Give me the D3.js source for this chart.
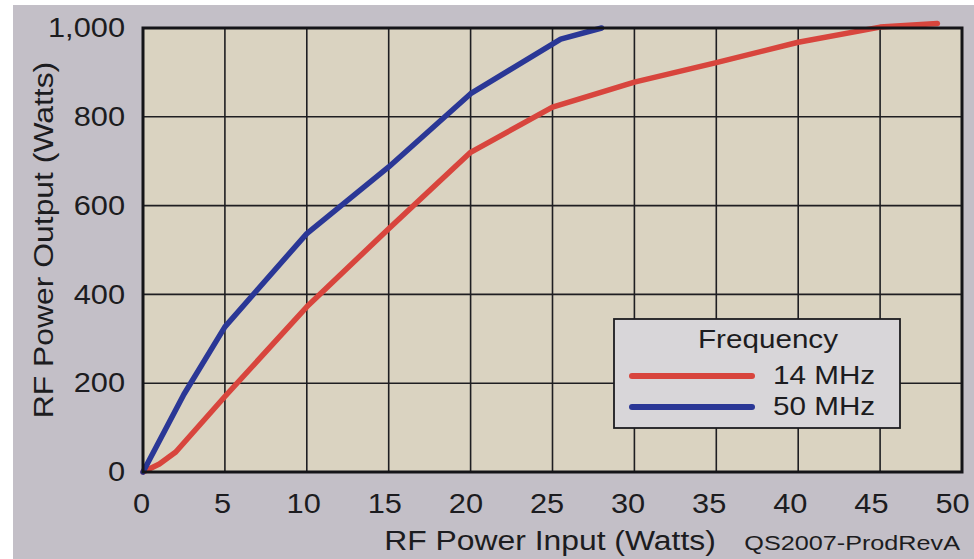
<!DOCTYPE html>
<html><head><meta charset="utf-8">
<script src="https://cdn.jsdelivr.net/npm/d3@7"></script>
<style>
html,body{margin:0;padding:0;background:#ffffff;}
svg{display:block;font-family:"Liberation Sans",Arial,sans-serif;}
</style></head>
<body>
<svg id="chart" width="974" height="559"></svg>
<script>
const xTicks = [0,5,10,15,20,25,30,35,40,45,50];
const yTicks = [0,200,400,600,800,1000];
const seriesNames = ["14 MHz","50 MHz"];
const input14 = [0,1,2,5,10,15,20,25,30,35,40,45,48.5];
const output14 = [0,18,45,170,372,548,720,822,878,922,968,1002,1010];
const input50 = [0,2.5,5,10,15,20,25.5,28];
const output50 = [0,175,327,537,687,852,975,1000];
const colors = ["#d8453d","#2a3796"];

const W=974,H=559;
const m={left:143,top:28,right:962,bottom:472};
const STRETCH=1.14;
const svg=d3.select("#chart");
svg.append("rect").attr("x",13).attr("y",5).attr("width",W-13).attr("height",H-5).attr("fill","#c3bfc7");

const x=d3.scaleLinear().domain([0,50]).range([m.left,m.right]);
const y=d3.scaleLinear().domain([0,1000]).range([m.bottom,m.top]);

svg.append("rect").attr("x",m.left).attr("y",m.top).attr("width",m.right-m.left).attr("height",m.bottom-m.top).attr("fill","#dad3c1");

function stretch(sel,k){
  sel.each(function(){
    const len=this.getComputedTextLength();
    d3.select(this).attr("textLength",len*(k||STRETCH)).attr("lengthAdjust","spacingAndGlyphs");
  });
}

// grid
const g=svg.append("g");
g.selectAll("line.v").data(xTicks.slice(1,-1)).join("line")
 .attr("x1",d=>x(d)).attr("x2",d=>x(d)).attr("y1",m.top).attr("y2",m.bottom)
 .attr("stroke","#1e1e22").attr("stroke-width",1.6);
g.selectAll("line.h").data(yTicks.slice(1,-1)).join("line")
 .attr("y1",d=>y(d)).attr("y2",d=>y(d)).attr("x1",m.left).attr("x2",m.right)
 .attr("stroke","#1e1e22").attr("stroke-width",1.6);

// axes
const xAxis=svg.append("g").attr("transform",`translate(0,${m.bottom})`)
 .call(d3.axisBottom(x).tickValues(xTicks).tickSize(0).tickPadding(22).tickFormat(d3.format("d")));
xAxis.select(".domain").remove();
xAxis.selectAll("text").attr("font-size",27).attr("fill","#1c1c20").attr("font-family","Liberation Sans, Arial, sans-serif")
 .attr("x",d=>-2-8*(d/50)).call(stretch);

const yAxis=svg.append("g").attr("transform",`translate(${m.left},0)`)
 .call(d3.axisLeft(y).tickValues(yTicks).tickSize(0).tickPadding(18).tickFormat(d3.format(",")));
yAxis.select(".domain").remove();
yAxis.selectAll("text").attr("font-size",27).attr("fill","#1c1c20").attr("font-family","Liberation Sans, Arial, sans-serif")
 .call(stretch);

// lines
const line=d3.line().x(d=>x(d[0])).y(d=>y(d[1])).curve(d3.curveLinear);
const data=[d3.zip(input14,output14),d3.zip(input50,output50)];
svg.selectAll("path.series").data(data).join("path")
 .attr("class","series").attr("d",line).attr("fill","none")
 .attr("stroke",(d,i)=>colors[i]).attr("stroke-width",5.5).attr("stroke-linecap","round").attr("stroke-linejoin","round");

// border
svg.append("rect").attr("x",m.left).attr("y",m.top).attr("width",m.right-m.left).attr("height",m.bottom-m.top)
 .attr("fill","none").attr("stroke","#141418").attr("stroke-width",3);

// axis titles
svg.append("text").attr("x",550).attr("y",550).attr("text-anchor","middle").attr("font-size",27).attr("fill","#1c1c20").text("RF Power Input (Watts)").call(stretch,1.18);
svg.append("text").attr("x",960).attr("y",550).attr("text-anchor","end").attr("font-size",21).attr("fill","#1c1c20").text("QS2007-ProdRevA").call(stretch,1.2);
svg.append("text").attr("transform","translate(53,240) rotate(-90)").attr("text-anchor","middle").attr("font-size",27).attr("fill","#1c1c20").text("RF Power Output (Watts)").call(stretch,1.18);

// legend
const lg=svg.append("g");
lg.append("rect").attr("x",614).attr("y",319).attr("width",286).attr("height",109).attr("fill","#d8d6d9").attr("stroke","#1c1c20").attr("stroke-width",1.8);
lg.append("text").attr("x",768).attr("y",348).attr("text-anchor","middle").attr("font-size",26).attr("fill","#1c1c20").text("Frequency").call(stretch);
seriesNames.forEach((n,i)=>{
  const yy=376+i*31;
  lg.append("line").attr("x1",632).attr("x2",752).attr("y1",yy).attr("y2",yy).attr("stroke",colors[i]).attr("stroke-width",6).attr("stroke-linecap","round");
  lg.append("text").attr("x",773).attr("y",yy+8).attr("font-size",26).attr("fill","#1c1c20").text(n).call(stretch);
});
</script>
</body></html>
